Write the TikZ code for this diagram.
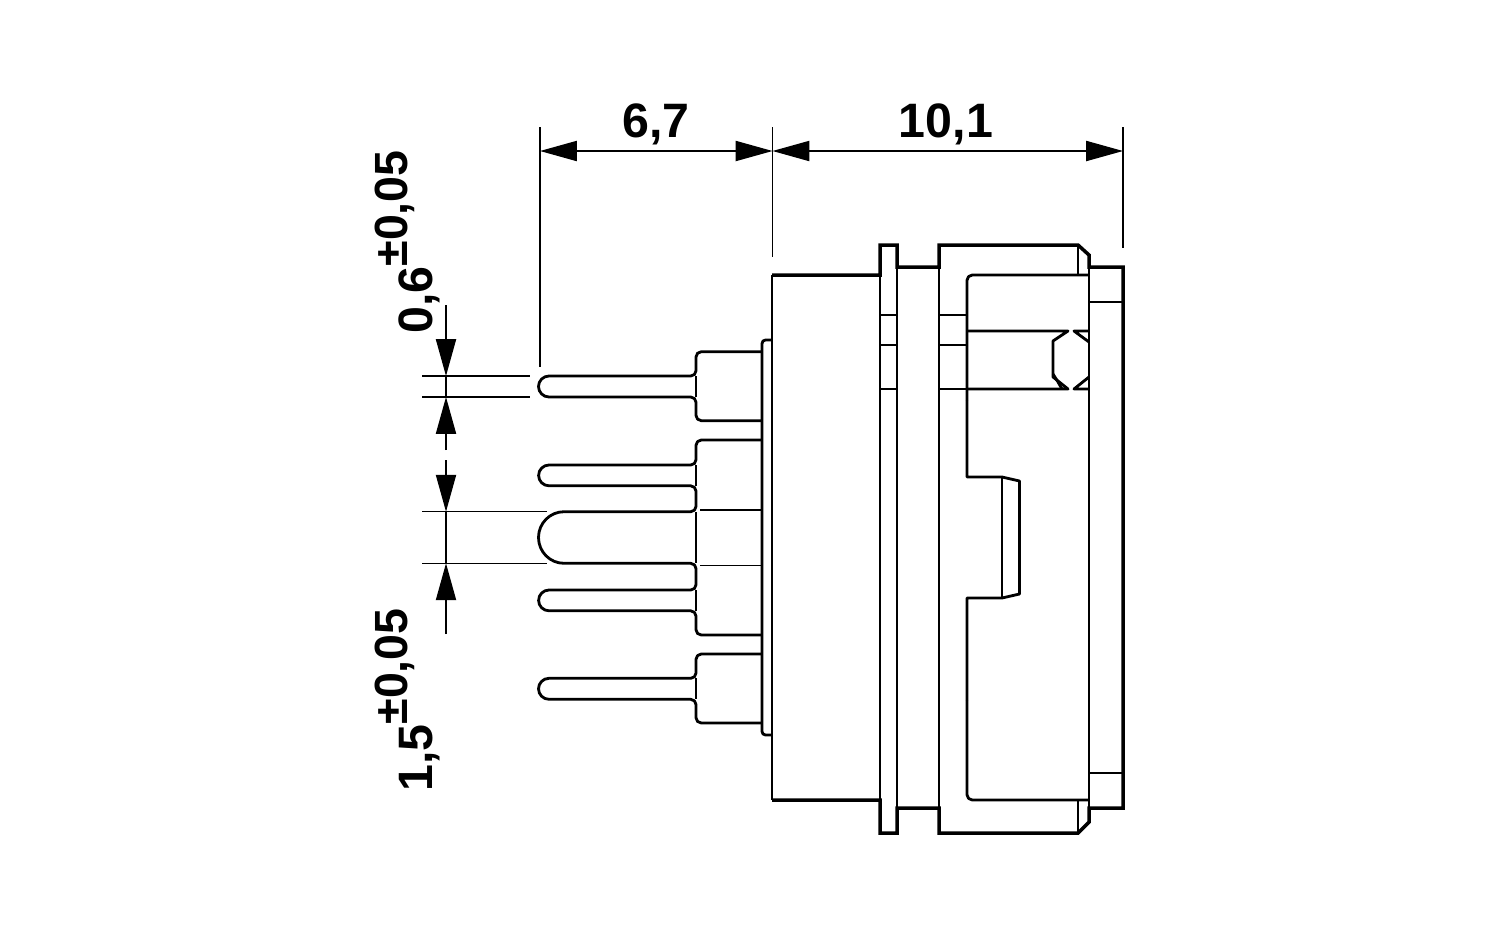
\documentclass[tikz,border=0pt]{standalone}
\usepackage{fontspec}
\setmainfont{Liberation Sans}
\usetikzlibrary{arrows.meta}
\tikzset{
	thickline/.style={line width=2pt, line join=miter},
	mainline/.style={line width=1.6pt, line join=round},
	thinline/.style={line width=0.75pt},
	dimline/.style={line width=0.75pt, {Triangle[length=21pt,width=11.5pt]}-{Triangle[length=21pt,width=11.5pt]}},
	dimtip/.style={line width=0.75pt, -{Triangle[length=21pt,width=11.5pt]}},
	dimtext/.style={font=\fontsize{27.5}{30}\selectfont\bfseries},
	dimrot/.style={rotate=90, anchor=base west, inner sep=0pt, font=\fontsize{27.5}{30}\selectfont\bfseries}
}
\newcommand{\supertol}[1]{\raisebox{14pt}{\fontsize{26.5}{28}\selectfont #1}}
\begin{document}
\begin{tikzpicture}[x=0.02cm, y=-0.02cm]
	\useasboundingbox (0,0) rectangle (1500,937);

	% Define body and flanges
	\draw[thickline] (772,275) -- (880,275) -- (880,245) -- (897,245) -- (897,267) -- (939,267) -- (939,245) -- (1078,245) -- (1089,255) -- (1089,267) -- (1123,267) -- (1123,808) -- (1089,808) -- (1089,822) -- (1078,833) -- (939,833) -- (939,808) -- (897,808) -- (897,833) -- (880,833) -- (880,800) -- (772,800);
	\draw[mainline] (772,275) -- (772,800);
	\draw[mainline] (880,275) -- (880,800);
	\draw[mainline] (897,267) -- (897,808);
	\draw[mainline] (939,267) -- (939,808);
	\draw[mainline] (1089,255) -- (1089,822);
	\draw[mainline] (1078,245) -- (1078,275);
	\draw[mainline] (1078,800) -- (1078,833);
	\draw[mainline] (1089,302) -- (1123,302);
	\draw[mainline] (1089,773) -- (1123,773);

	% Define inner contour
	\draw[mainline, rounded corners=3pt] (1089,275) -- (967,275) -- (967,400);
	\draw[mainline] (967,400) -- (967,477) -- (1002,477) -- (1019.5,481) -- (1019.5,594) -- (1002,598) -- (967,598) -- (967,700);
	\draw[mainline, rounded corners=3pt] (967,700) -- (967,800) -- (1089,800);
	\draw[mainline] (1002,477) -- (1002,598);

	% Define bands and hexagon
	\foreach \bandy in {315,345,389} {
		\draw[mainline] (880,\bandy) -- (897,\bandy);
		\draw[mainline] (939,\bandy) -- (967,\bandy);
	}
	\draw[mainline] (967,331) -- (1068,331) -- (1053,341) -- (1053,377) -- (1068,389) -- (967,389);
	\draw[mainline] (1053,374) -- (1058,382) -- (1062,389);
	\draw[mainline] (1089,342) -- (1074,331) -- (1089,331);
	\draw[mainline] (1089,377) -- (1074,389) -- (1089,389);

	% Define plate
	\draw[mainline, rounded corners=2pt] (772,340) -- (762,340) -- (762,735) -- (772,735);

	% Define pins
	\draw[mainline, rounded corners=3pt] (762,351.7) -- (696,351.7) -- (696,376) [sharp corners] -- (549,376) arc[start angle=270, end angle=90, radius=10.5] [rounded corners=3pt] -- (696,397) -- (696,420.7) -- (762,420.7);
	\draw[mainline, rounded corners=3pt] (762,440) -- (696,440) -- (696,465) [sharp corners] -- (549,465) arc[start angle=270, end angle=90, radius=10.4] [rounded corners=3pt] -- (696,485.8) -- (696,511.7) [sharp corners] -- (564,511.7) arc[start angle=270, end angle=90, x radius=25.5, y radius=25.8] [rounded corners=3pt] -- (696,563.3) -- (696,590) [sharp corners] -- (549,590) arc[start angle=270, end angle=90, radius=10.4] [rounded corners=3pt] -- (696,610.8) -- (696,635) -- (762,635);
	\draw[mainline, rounded corners=3pt] (762,654) -- (696,654) -- (696,678.3) [sharp corners] -- (549,678.3) arc[start angle=270, end angle=90, radius=10.5] [rounded corners=3pt] -- (696,699.3) -- (696,723) -- (762,723);
	\draw[thinline] (700,510) -- (762,510);
	\draw[thinline] (700,565.5) -- (762,565.5);
	\foreach \shouldera/\shoulderb in {376/397,465/486,512/563,590/611,678/699} {
		\draw[thinline] (696,\shouldera) -- (696,\shoulderb);
	}

	% Define 6,7 and 10,1
	\coordinate (DimA) at (540,151);
	\coordinate (DimB) at (772.5,151);
	\coordinate (DimC) at (1123,151);
	\node[dimtext] (Width67) at (656,124) {6,7};
	\node[dimtext] (Width101) at (946,124) {10,1};
	\draw[dimline] (DimA) -- (DimB);
	\draw[dimline] (DimB) -- (DimC);
	\draw[thinline] (540,127) -- (540,367);
	\draw[thinline] (772.5,127) -- (772.5,257);
	\draw[thinline] (1123,127) -- (1123,248);

	% Define 0,6
	\coordinate (PinTopA) at (446,376);
	\coordinate (PinTopB) at (446,397);
	\coordinate (TailA) at (446,305);
	\coordinate (TailB) at (446,450);
	\node[dimrot] (Pin06) at (432,334) {0,6\supertol{±0,05}};
	\draw[thinline] (422,376) -- (530,376);
	\draw[thinline] (422,397) -- (530,397);
	\draw[dimtip] (TailA) -- (PinTopA);
	\draw[dimtip] (TailB) -- (PinTopB);
	\draw[thinline] (PinTopA) -- (PinTopB);

	% Define 1,5
	\coordinate (PinBigA) at (446,511.7);
	\coordinate (PinBigB) at (446,563.3);
	\coordinate (TailC) at (446,460);
	\coordinate (TailD) at (446,634);
	\node[dimrot] (Pin15) at (432,792) {1,5\supertol{±0,05}};
	\draw[thinline] (422,511.7) -- (547,511.7);
	\draw[thinline] (422,563.3) -- (547,563.3);
	\draw[dimtip] (TailC) -- (PinBigA);
	\draw[dimtip] (TailD) -- (PinBigB);
	\draw[thinline] (PinBigA) -- (PinBigB);
\end{tikzpicture}
\end{document}
